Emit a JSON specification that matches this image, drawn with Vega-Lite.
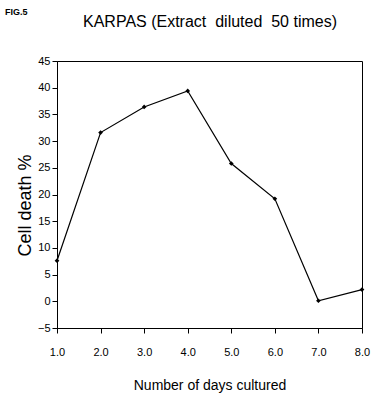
{
  "$schema": "https://vega.github.io/schema/vega-lite/v6.json",
  "autosize": "none",
  "width": 305,
  "height": 267,
  "padding": {"left": 57, "top": 61, "right": 13, "bottom": 80},
  "background": "white",
  "config": {
    "view": {"stroke": "black", "strokeWidth": 1},
    "axis": {"grid": false, "domainColor": "black", "tickColor": "black", "labelColor": "black", "titleColor": "black", "labelFont": "Liberation Sans, sans-serif", "titleFont": "Liberation Sans, sans-serif", "titleFontWeight": "normal", "labelOverlap": false, "labelFlush": false}
  },
  "title": {
    "text": "FIG.5",
    "font": "Liberation Sans, sans-serif",
    "fontSize": 9,
    "fontWeight": "bold",
    "color": "black",
    "anchor": "start",
    "frame": "group",
    "dx": -52,
    "dy": 8
  },
  "data": {"values": [
    {"day": 1, "death": 7.6},
    {"day": 2, "death": 31.6},
    {"day": 3, "death": 36.4},
    {"day": 4, "death": 39.4},
    {"day": 5, "death": 25.8},
    {"day": 6, "death": 19.2},
    {"day": 7, "death": 0.1},
    {"day": 8, "death": 2.2}
  ]},
  "layer": [
    {
      "mark": {"type": "line", "color": "black", "strokeWidth": 1.2, "point": {"filled": true, "color": "black", "size": 22, "shape": "diamond"}},
      "encoding": {
        "x": {"field": "day", "type": "quantitative", "scale": {"domain": [1, 8], "nice": false, "zero": false},
          "axis": {"values": [1, 2, 3, 4, 5, 6, 7, 8], "format": ".1f", "labelFontSize": 11, "labelPadding": 13, "tickSize": 5, "title": "Number of days cultured", "titleFontSize": 14, "titlePadding": 21}},
        "y": {"field": "death", "type": "quantitative", "scale": {"domain": [-5, 45], "nice": false, "zero": false},
          "axis": {"values": [-5, 0, 5, 10, 15, 20, 25, 30, 35, 40, 45], "labelOverlap": false, "labelFontSize": 11, "labelPadding": 2, "tickSize": 5, "title": "Cell death %", "titleFontSize": 18, "titlePadding": 3, "titleY": 144}}
      }
    },
    {
      "mark": {"type": "line", "opacity": 0},
      "encoding": {
        "x": {"field": "day", "type": "quantitative",
          "axis": {"orient": "top", "domain": false, "ticks": false, "labels": false, "title": "KARPAS (Extract\u00a0 diluted\u00a0 50 times)", "titleFontSize": 16, "titlePadding": 32}},
        "y": {"field": "death", "type": "quantitative", "axis": {"values": [-5, 0, 5, 10, 15, 20, 25, 30, 35, 40, 45], "labelOverlap": false, "labelFontSize": 11, "labelPadding": 2, "tickSize": 5, "title": "Cell death %", "titleFontSize": 18, "titlePadding": 3, "titleY": 144}}
      }
    }
  ],
  "resolve": {"axis": {"x": "independent"}}
}
